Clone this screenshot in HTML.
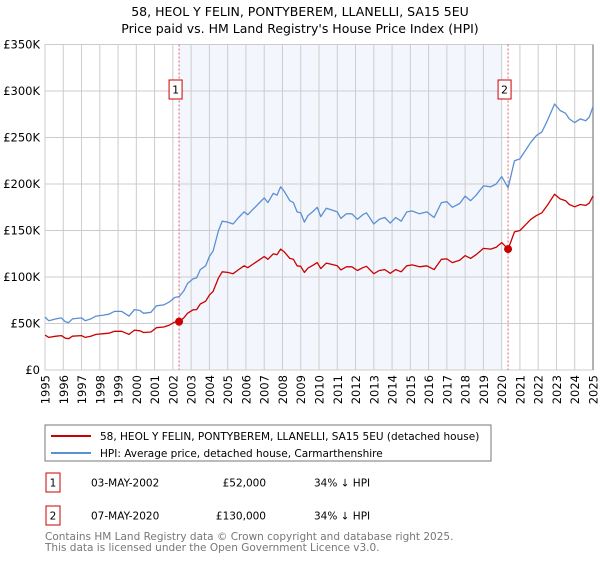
<!DOCTYPE html>
<html><head><meta charset="utf-8"><style>
body{margin:0;background:#fff;font-family:"DejaVu Sans","Liberation Sans",sans-serif;}
svg text{font-family:"DejaVu Sans","Liberation Sans",sans-serif;}
</style></head><body>
<svg id="c" width="600" height="560" viewBox="0 0 600 560" xmlns="http://www.w3.org/2000/svg">
<text x="300" y="16" text-anchor="middle" font-size="12.5">58, HEOL Y FELIN, PONTYBEREM, LLANELLI, SA15 5EU</text>
<text x="300" y="33" text-anchor="middle" font-size="12.5">Price paid vs. HM Land Registry's House Price Index (HPI)</text>
<g id="grid"></g><g id="marks"></g>
<rect x="45" y="425" width="446" height="36" fill="#fff" stroke="#777"/>
<line x1="51" y1="436" x2="91" y2="436" stroke="#cc0000" stroke-width="2"/>
<text x="100" y="440" font-size="10.5">58, HEOL Y FELIN, PONTYBEREM, LLANELLI, SA15 5EU (detached house)</text>
<line x1="51" y1="453" x2="91" y2="453" stroke="#5b8fd4" stroke-width="2"/>
<text x="100" y="457" font-size="10.5">HPI: Average price, detached house, Carmarthenshire</text>
<g font-size="10.5">
<rect x="46" y="473" width="14" height="19" fill="#fff" stroke="#cc0000"/>
<text x="53" y="486.5" text-anchor="middle">1</text>
<text x="91" y="486.5">03-MAY-2002</text>
<text x="266" y="486.5" text-anchor="end">£52,000</text>
<text x="314" y="486.5">34% ↓ HPI</text>
<rect x="46" y="506" width="14" height="19" fill="#fff" stroke="#cc0000"/>
<text x="53" y="519.5" text-anchor="middle">2</text>
<text x="91" y="519.5">07-MAY-2020</text>
<text x="266" y="519.5" text-anchor="end">£130,000</text>
<text x="314" y="519.5">34% ↓ HPI</text>
</g>
<text x="45" y="540" font-size="10.5" fill="#777">Contains HM Land Registry data © Crown copyright and database right 2025.</text>
<text x="45" y="551" font-size="10.5" fill="#777">This data is licensed under the Open Government Licence v3.0.</text>
</svg>
<script>
const hpiYears=[1995.0,1995.2,1995.6,1995.9,1996.1,1996.3,1996.5,1997.0,1997.2,1997.5,1997.8,1998.2,1998.5,1998.8,1999.2,1999.6,1999.9,2000.2,2000.4,2000.8,2001.1,2001.5,2001.8,2002.1,2002.35,2002.6,2002.8,2003.1,2003.3,2003.5,2003.8,2004.0,2004.2,2004.5,2004.7,2005.0,2005.3,2005.6,2005.9,2006.1,2006.4,2006.7,2007.0,2007.2,2007.5,2007.7,2007.9,2008.1,2008.4,2008.6,2008.8,2009.0,2009.2,2009.4,2009.7,2009.9,2010.1,2010.4,2010.7,2011.0,2011.2,2011.5,2011.8,2012.1,2012.4,2012.6,2013.0,2013.3,2013.6,2013.9,2014.2,2014.5,2014.8,2015.1,2015.5,2015.9,2016.3,2016.7,2017.0,2017.3,2017.7,2018.0,2018.3,2018.6,2019.0,2019.4,2019.7,2020.0,2020.35,2020.7,2021.0,2021.3,2021.6,2021.9,2022.2,2022.5,2022.9,2023.2,2023.5,2023.7,2024.0,2024.3,2024.6,2024.8,2025.0];
const hpiValues=[57,53,55,56,52,51,55,56,53,55,58,59,60,63,63,58,65,64,61,62,69,70,73,78,79,85,93,98,99,108,112,122,128,150,160,159,157,164,170,167,173,179,185,180,190,188,197,192,182,180,170,169,159,166,171,175,165,174,172,170,163,168,168,162,167,169,157,162,164,158,164,160,170,171,168,170,164,180,181,175,179,187,182,188,198,197,200,208,196,225,227,236,245,252,256,268,286,279,276,270,266,270,268,272,283];
const propertyValues=[37.6,35,36.3,37,34.3,33.7,36.3,37,35,36.3,38.3,39,39.6,41.6,41.6,38.3,42.9,42.2,40.3,40.9,45.5,46.2,48.2,51.5,52,56,61,64.7,65,71,74,80.5,84.5,99,105.6,105,103.6,108,112,110,114,118,122,119,125,124,130,127,120,119,112,111.5,105,109.6,113,115.5,109,115,113.5,112,107.6,111,111,107,110,111.5,103.6,107,108,104,108,105.6,112,113,111,112,108,119,119.5,115.5,118,123,120,124,130.7,130,132,137,130,148.5,150,156,162,166,169,177,189,184,182,178,175.5,178,177,179.5,187];
const saleYears=[2002.34,2020.35];
const salePrices=[52,130];
const saleLabels=["1","2"];
const yTicks=[0,50,100,150,200,250,300,350];
const yTickLabels=["£0","£50K","£100K","£150K","£200K","£250K","£300K","£350K"];
const xTicks=[1995,1996,1997,1998,1999,2000,2001,2002,2003,2004,2005,2006,2007,2008,2009,2010,2011,2012,2013,2014,2015,2016,2017,2018,2019,2020,2021,2022,2023,2024,2025];

const L=45,R=593,T=44.5,B=370,X0=1995,X1=2025,Y1=350;
const xs=v=>L+(v-X0)/(X1-X0)*(R-L);
const ys=v=>B-v/Y1*(B-T);
const NS="http://www.w3.org/2000/svg";
function mk(tag,attrs,parent){const e=document.createElementNS(NS,tag);for(const k in attrs)e.setAttribute(k,attrs[k]);parent.appendChild(e);return e;}
const g=document.getElementById('grid'),m=document.getElementById('marks');
let bg=mk('rect',{x:L,y:T,width:R-L,height:B-T,fill:'#fff'},g);


let sh=mk('rect',{x:xs(saleYears[0]),y:T,width:xs(2020)-xs(saleYears[0]),height:B-T,fill:'#eef3fc',opacity:0.7},g);


xTicks.forEach((t,i)=>{
 let l=mk('line',{x1:xs(t),x2:xs(t),y1:T,y2:B,stroke:'#ccc','stroke-width':1},g);
 
 
 let tx=mk('text',{x:0,y:0,'font-size':11.5,'text-anchor':'end',transform:`translate(${xs(t)+4.5},${B+5}) rotate(-90)`},g);
 tx.textContent=t;
 
 
});
yTicks.forEach((t,i)=>{
 let l=mk('line',{x1:L,x2:R,y1:ys(t),y2:ys(t),stroke:'#ccc','stroke-width':1},g);
 
 
 let tx=mk('text',{x:L-5,y:ys(t)+4,'font-size':11.5,'text-anchor':'end'},g);
 tx.textContent=yTickLabels[i];
 
 
});
let re=mk('line',{x1:R,x2:R,y1:T,y2:B,stroke:'#999','stroke-width':1.5},g);


saleYears.forEach((s,i)=>{
 let l=mk('line',{x1:xs(s),x2:xs(s),y1:T,y2:B,stroke:'#e06070','stroke-width':1,'stroke-dasharray':'2,2'},m);
 
 
 let bx=mk('rect',{x:xs(s)-10,y:80,width:13,height:19,fill:'#fff',stroke:'#cc0000'},m);
 
 
 let t=mk('text',{x:xs(s)-3.5,y:93.5,'font-size':11,'text-anchor':'middle'},m);
 t.textContent=saleLabels[i];
 
 
});
const line=(vals,col,name)=>{let d=vals.map((v,i)=>(i?'L':'M')+xs(hpiYears[i]).toFixed(1)+','+ys(v).toFixed(1)).join('');
 let p=mk('path',{d:d,fill:'none',stroke:col,'stroke-width':1.3,'stroke-linejoin':'round'},m);
 
 };
line(hpiValues,'#5b8fd4','hpi-line');
line(propertyValues,'#cc0000','property-line');
saleYears.forEach((s,i)=>{
 let c=mk('circle',{cx:xs(s),cy:ys(salePrices[i]),r:4,fill:'#cc0000'},m);
 
 
});
</script>
</body></html>
